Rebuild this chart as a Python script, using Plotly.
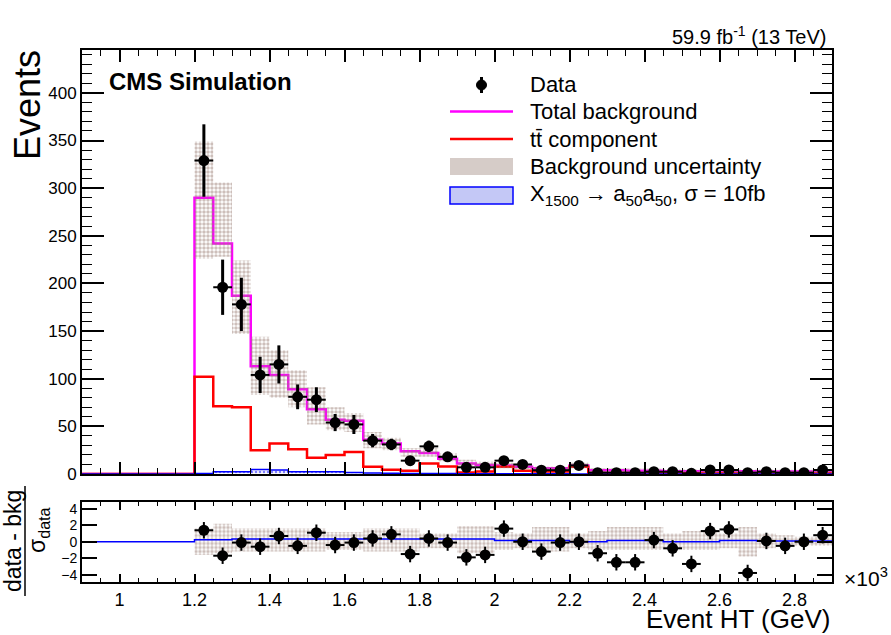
import plotly.graph_objects as go

# ---------------- data ----------------
bin_centers = [1225, 1275, 1325, 1375, 1425, 1475, 1525, 1575, 1625, 1675,
               1725, 1775, 1825, 1875, 1925, 1975, 2025, 2075, 2125, 2175,
               2225, 2275, 2325, 2375, 2425, 2475, 2525, 2575, 2625, 2675,
               2725, 2775, 2825, 2875]
data_events = [329, 196, 178, 104, 115, 81, 78, 54, 52, 35,
               31, 14, 29, 18, 7, 7, 14, 10, 4, 4,
               9, 1.4, 1.4, 1.4, 2.4, 2.4, 0.7, 4.2, 4.2, 1.4,
               2.4, 1.4, 1.4, 4.2]
data_err = [38, 29, 28, 19, 20, 13, 13, 9, 10, 7,
            6, 4, 6, 5, 3, 3, 4, 3, 2, 2,
            3, 1.5, 1.5, 1.5, 1.5, 1.5, 1.2, 2, 2, 1.5,
            1.5, 1.5, 1.5, 2]
total_bkg = [290, 242, 187, 113, 104, 89, 68, 57, 56, 36,
             32, 24, 22, 16, 11, 9.5, 9, 7.5, 6, 6,
             9, 4, 4, 3.5, 3.5, 3, 3, 3, 3, 3,
             2.5, 2.5, 2.5, 2.5]
ttbar = [102, 71, 70, 25, 32, 26, 17, 20, 23, 7.5,
         4.5, 3.5, 11, 8, 1.5, 2.5, 7.5, 3.5, 2.5, 2.5,
         7.5, 1, 1, 0.8, 0.8, 0.8, 0.8, 0.8, 0.8, 0.8,
         0.8, 0.8, 0.8, 0.8]
bkg_unc_lo = [226, 228, 147, 83, 80, 70, 52, 46, 44, 27,
              25, 18, 18, 13, 8, 7, 6, 5, 4, 4,
              6, 2, 2, 1.5, 1.5, 1.5, 1.5, 1.5, 1.5, 1.5,
              1, 1, 1, 1]
bkg_unc_hi = [349, 306, 224, 144, 130, 109, 91, 70, 64, 44,
              38, 27, 27, 22, 15, 13, 12, 10, 8, 8,
              12, 6, 6, 5.5, 5.5, 5, 5, 5, 5, 5,
              4.5, 4.5, 4.5, 4.5]
signal = [0.5, 2.4, 2.4, 4.8, 4.2, 2.4, 2.4, 2.4, 1.5, 1.0,
          0.8, 0.6, 0.5, 0.4, 0.3, 0.3, 0.2, 0.2, 0.2, 0.2,
          0.1, 0.1, 0.1, 0.1, 0.1, 0.1, 0.1, 0.1, 0.1, 0.1,
          0.1, 0.1, 0.1, 0.1]

ratio = [1.4, -1.7, -0.1, -0.6, 0.7, -0.5, 1.1, -0.4, -0.1, 0.4,
         0.9, -1.5, 0.4, -0.1, -1.9, -1.6, 1.6, 0.0, -1.2, -0.1,
         0.0, -1.4, -2.5, -2.5, 0.2, -0.8, -2.7, 1.3, 1.5, -3.8,
         0.1, -0.5, 0.0, 0.8]
ratio_err = [1.0, 1.0, 1.0, 1.0, 1.0, 1.0, 1.0, 1.0, 1.0, 1.0,
             1.0, 1.0, 1.0, 1.0, 1.0, 1.0, 1.0, 1.0, 1.0, 1.0,
             1.0, 1.0, 1.0, 1.0, 1.0, 1.0, 1.0, 1.0, 1.0, 1.0,
             1.0, 1.0, 1.0, 1.0]
ratio_band_lo = [-1.6, -1.4, -1.2, -1.2, -1.2, -1.2, -1.2, -1.0, -1.0, -1.2,
                 -1.2, -1.2, -0.8, -0.8, -1.4, -1.4, -1.0, -0.8, -1.2, -1.2,
                 -0.8, -1.0, -1.0, -1.0, -1.0, -0.8, -1.0, -1.0, -0.8, -1.8,
                 -0.8, -0.6, -0.5, -0.5]
ratio_band_hi = [1.6, 2.2, 1.6, 1.6, 1.6, 1.6, 1.6, 1.2, 1.2, 1.6,
                 1.6, 1.6, 1.0, 1.0, 1.9, 1.9, 1.2, 1.0, 1.8, 1.8,
                 1.0, 1.3, 1.8, 1.8, 1.8, 1.0, 1.3, 1.3, 1.0, 1.8,
                 1.0, 0.8, 0.6, 0.6]
ratio_signal = [0.25, 0.25, 0.35, 0.35, 0.35, 0.35, 0.35, 0.35, 0.35, 0.35,
                0.35, 0.35, 0.35, 0.35, 0.35, 0.35, 0.15, 0.15, 0.15, 0.15,
                0.0, 0.0, 0.15, 0.15, 0.15, 0.0, 0.0, 0.0, 0.15, 0.15,
                0.1, 0.1, 0.1, 0.1]

x_tick_vals = [1000, 1200, 1400, 1600, 1800, 2000, 2200, 2400, 2600, 2800]
x_tick_text = ["1", "1.2", "1.4", "1.6", "1.8", "2", "2.2", "2.4", "2.6", "2.8"]
y_tick_vals = [0, 50, 100, 150, 200, 250, 300, 350, 400]
ratio_tick_vals = [-4, -2, 0, 2, 4]

legend_labels = ["Data", "Total background", "tt\u0304 component", "Background uncertainty",
                 "X<sub>1500</sub> \u2192 a<sub>50</sub>a<sub>50</sub>, \u03c3 = 10fb"]

# ---------------- helpers ----------------
BIN_W = 50
X_MIN, X_MAX = 900, 2900
edges = [c - BIN_W / 2 for c in bin_centers] + [bin_centers[-1] + BIN_W / 2]


def step_xy(values, start=X_MIN):
    xs = [start] + edges
    ys = [0] + list(values) + [values[-1]]
    return xs, ys


def band_polygon(lo, hi):
    xs, ys = [], []
    for i in range(len(hi)):
        xs += [edges[i], edges[i + 1]]
        ys += [hi[i], hi[i]]
    for i in reversed(range(len(lo))):
        xs += [edges[i + 1], edges[i]]
        ys += [lo[i], lo[i]]
    xs.append(xs[0])
    ys.append(ys[0])
    return xs, ys


FONT = "Liberation Sans, Arial, Helvetica, sans-serif"
W, H = 891, 635
MAGENTA, RED, BLUE = "#ff00ff", "#ff0000", "#0000ff"
BAND_FG = "rgb(155,128,118)"
band_pattern = dict(shape=".", fgcolor=BAND_FG, bgcolor="rgba(255,255,255,0)", size=4, solidity=0.6)

fig = go.Figure()

# total background
sx, sy = step_xy(total_bkg)
fig.add_trace(go.Scatter(x=sx, y=sy, mode="lines", line=dict(color=MAGENTA, width=2.5, shape="hv"),
                         name=legend_labels[1], showlegend=False, xaxis="x", yaxis="y", hoverinfo="skip"))
# ttbar component
sx, sy = step_xy(ttbar)
fig.add_trace(go.Scatter(x=sx, y=sy, mode="lines", line=dict(color=RED, width=2.5, shape="hv"),
                         name=legend_labels[2], showlegend=False, xaxis="x", yaxis="y", hoverinfo="skip"))
# signal
sx, sy = step_xy(signal)
fig.add_trace(go.Scatter(x=sx, y=sy, mode="lines", line=dict(color=BLUE, width=1.5, shape="hv"),
                         fill="tozeroy", fillcolor="rgba(0,0,0,0)",
                         fillpattern=dict(shape=".", fgcolor=BLUE, bgcolor="rgba(255,255,255,0)",
                                          size=4, solidity=0.35),
                         name="signal", showlegend=False, xaxis="x", yaxis="y", hoverinfo="skip"))
# background uncertainty band
bx, by = band_polygon(bkg_unc_lo, bkg_unc_hi)
fig.add_trace(go.Scatter(x=bx, y=by, mode="lines", line=dict(width=0, color="rgba(0,0,0,0)"),
                         fill="toself", fillcolor="rgba(0,0,0,0)", fillpattern=band_pattern,
                         name=legend_labels[3], showlegend=False, xaxis="x", yaxis="y", hoverinfo="skip"))
# data
fig.add_trace(go.Scatter(x=bin_centers, y=data_events, mode="markers",
                         marker=dict(color="black", size=11, symbol="circle"),
                         error_y=dict(type="data", array=data_err, color="black", thickness=3, width=0),
                         error_x=dict(type="constant", value=BIN_W / 2, color="black", thickness=2, width=0),
                         name=legend_labels[0], showlegend=False, xaxis="x", yaxis="y"))

# ratio panel
rbx, rby = band_polygon(ratio_band_lo, ratio_band_hi)
fig.add_trace(go.Scatter(x=rbx, y=rby, mode="lines", line=dict(width=0, color="rgba(0,0,0,0)"),
                         fill="toself", fillcolor="rgba(0,0,0,0)", fillpattern=band_pattern,
                         showlegend=False, xaxis="x2", yaxis="y2", hoverinfo="skip"))
sx, sy = step_xy(ratio_signal)
fig.add_trace(go.Scatter(x=sx, y=sy, mode="lines", line=dict(color=BLUE, width=1.5, shape="hv"),
                         showlegend=False, xaxis="x2", yaxis="y2", hoverinfo="skip"))
fig.add_trace(go.Scatter(x=bin_centers, y=ratio, mode="markers",
                         marker=dict(color="black", size=11, symbol="circle"),
                         error_y=dict(type="data", array=ratio_err, color="black", thickness=2, width=0),
                         error_x=dict(type="constant", value=BIN_W / 2, color="black", thickness=2, width=0),
                         showlegend=False, xaxis="x2", yaxis="y2"))

x0p, x1p = 82 / W, 832 / W
main_dom = [1 - 474 / H, 1 - 50 / H]
ratio_dom = [1 - 582 / H, 1 - 501.5 / H]

axis_common = dict(showline=True, linecolor="black", linewidth=2, mirror="ticks", automargin=False,
                   ticks="inside", tickcolor="black", showgrid=False, zeroline=False)

fig.update_layout(
    width=W, height=H, margin=dict(l=0, r=0, t=0, b=0, autoexpand=False),
    paper_bgcolor="white", plot_bgcolor="white",
    font=dict(family=FONT, color="black"),
    showlegend=False,
    xaxis=dict(domain=[x0p, x1p], anchor="y", range=[X_MIN, X_MAX], tickvals=x_tick_vals,
               showticklabels=False, ticklen=12, tickwidth=1.5,
               minor=dict(ticks="inside", dtick=50, tick0=1000, ticklen=6, tickcolor="black", tickwidth=1.2),
               **axis_common),
    yaxis=dict(domain=main_dom, anchor="x", range=[0, 445], tickvals=y_tick_vals,
               ticklen=22, tickwidth=1.5,
               tickfont=dict(family=FONT, size=17, color="black"),
               minor=dict(ticks="inside", dtick=10, ticklen=10, tickcolor="black", tickwidth=1.2),
               **axis_common),
    xaxis2=dict(domain=[x0p, x1p], anchor="y2", range=[X_MIN, X_MAX], tickvals=x_tick_vals,
                ticktext=x_tick_text, ticklen=8, tickwidth=1.5,
                tickfont=dict(family=FONT, size=18, color="black"),
                minor=dict(ticks="inside", dtick=50, tick0=1000, ticklen=4, tickcolor="black", tickwidth=1.2),
                **axis_common),
    yaxis2=dict(domain=ratio_dom, anchor="x2", range=[-4.9, 4.9], tickvals=ratio_tick_vals,
                ticklen=15, tickwidth=1.5,
                tickfont=dict(family=FONT, size=14, color="black"),
                **axis_common),
)

# ---------------- manual ROOT-style legend ----------------
LX0, LX1, LTX = 450, 513, 528
row_y = [85, 111.5, 139, 166, 195]
shapes = []
shapes.append(dict(type="line", x0=481.5 / W, x1=481.5 / W, y0=1 - 77 / H, y1=1 - 93 / H,
                   line=dict(color="black", width=3)))
shapes.append(dict(type="circle", x0=476.5 / W, x1=486.5 / W, y0=1 - 90 / H, y1=1 - 80 / H,
                   fillcolor="black", line=dict(color="black", width=1)))
shapes.append(dict(type="line", x0=LX0 / W, x1=LX1 / W, y0=1 - row_y[1] / H, y1=1 - row_y[1] / H,
                   line=dict(color=MAGENTA, width=2.5)))
shapes.append(dict(type="line", x0=LX0 / W, x1=LX1 / W, y0=1 - row_y[2] / H, y1=1 - row_y[2] / H,
                   line=dict(color=RED, width=2.5)))
shapes.append(dict(type="rect", x0=LX0 / W, x1=LX1 / W, y0=1 - 175 / H, y1=1 - 158 / H,
                   fillcolor="rgb(214,204,200)", line=dict(width=0)))
shapes.append(dict(type="rect", x0=LX0 / W, x1=LX1 / W, y0=1 - 204 / H, y1=1 - 187 / H,
                   fillcolor="rgb(196,200,246)", line=dict(color=BLUE, width=1.5)))
# ratio-title fraction bar
shapes.append(dict(type="line", x0=25 / W, x1=25 / W, y0=1 - 596 / H, y1=1 - 486 / H,
                   line=dict(color="black", width=1.5)))
for s in shapes:
    s.update(xref="paper", yref="paper", layer="above")
fig.update_layout(shapes=shapes)

ann = [
    dict(text="<b>CMS Simulation</b>", x=107 / W, y=1 - 82 / H, xanchor="left", yanchor="middle",
         font=dict(size=24)),
    dict(text="59.9 fb<sup>-1</sup> (13 TeV)", x=828 / W, y=1 - 36 / H, xanchor="right", yanchor="middle",
         font=dict(size=20)),
    dict(text="Events", x=27 / W, y=1 - 48 / H, xanchor="center", yanchor="top", textangle=-90,
         font=dict(size=36)),
    dict(text="Event HT (GeV)", x=832 / W, y=1 - 619 / H, xanchor="right", yanchor="middle",
         font=dict(size=26)),
    dict(text="\u00d710<sup>3</sup>", x=842 / W, y=1 - 577 / H, xanchor="left", yanchor="middle",
         font=dict(size=21)),
    dict(text="data - bkg", x=13 / W, y=1 - 541 / H, xanchor="center", yanchor="middle", textangle=-90,
         font=dict(size=23)),
    dict(text="\u03c3<sub>data</sub>", x=38 / W, y=1 - 530 / H, xanchor="center", yanchor="middle",
         textangle=-90, font=dict(size=23)),
]
for lbl, yy in zip(legend_labels, row_y):
    ann.append(dict(text=lbl, x=LTX / W, y=1 - yy / H, xanchor="left", yanchor="middle",
                    font=dict(size=22)))
for a in ann:
    a.update(xref="paper", yref="paper", showarrow=False)
    a["font"] = dict(family=FONT, color="black", **a["font"])
fig.update_layout(annotations=ann)

fig.write_html("out.html", config={"displayModeBar": False},
               post_script="document.body.style.margin='0px';")
